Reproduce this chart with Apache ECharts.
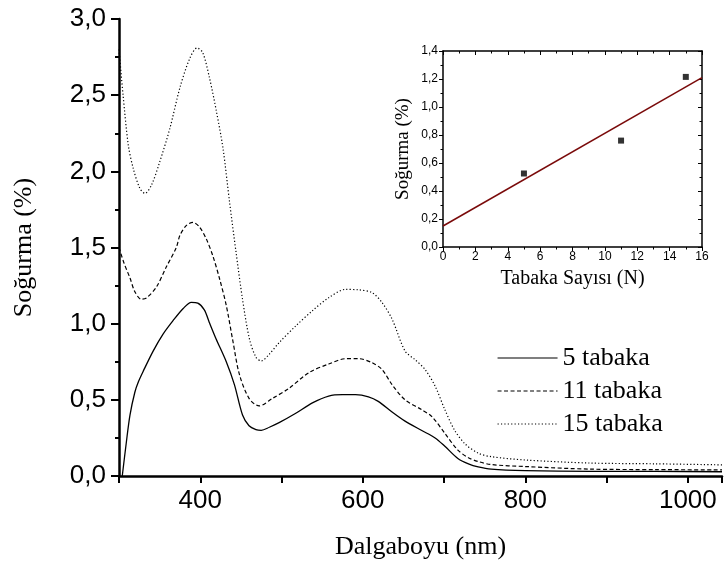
<!DOCTYPE html>
<html>
<head>
<meta charset="utf-8">
<script src="https://cdn.jsdelivr.net/npm/echarts@6/dist/echarts.min.js"></script>
<style>html,body{margin:0;padding:0;background:#fff}#c{width:725px;height:565px}</style>
</head>
<body>
<div id="c"></div>
<script>
// ---- main spectra ----
const seriesNames = ['5 tabaka', '11 tabaka', '15 tabaka'];
const wl5 = [304, 309, 313.5, 319.5, 324, 330, 342, 354, 366.5, 379, 389, 397, 405, 411, 419.5, 432, 442, 452, 460, 468.5, 475, 485, 497, 517, 538, 558, 575, 591, 607, 619, 636, 652, 672, 689, 701, 717, 730, 742, 758, 800, 880, 960, 1042];
const ab5 = [0, 0.22, 0.40, 0.55, 0.62, 0.69, 0.82, 0.93, 1.02, 1.10, 1.14, 1.135, 1.09, 1.01, 0.90, 0.75, 0.60, 0.40, 0.33, 0.305, 0.30, 0.32, 0.35, 0.41, 0.48, 0.525, 0.534, 0.534, 0.52, 0.49, 0.42, 0.36, 0.30, 0.25, 0.195, 0.115, 0.08, 0.06, 0.045, 0.035, 0.03, 0.03, 0.028];
const wl11 = [300, 306, 313.5, 319.5, 327.5, 334, 346, 358, 370.5, 375, 383, 391, 399, 407.5, 415.5, 424, 432, 440, 448, 460, 472.5, 489, 509, 534, 558, 579, 595, 611, 623.5, 636, 652, 672.5, 685, 701, 717, 730, 742, 758, 800, 880, 960, 1042];
const ab11 = [1.50, 1.40, 1.30, 1.21, 1.16, 1.17, 1.24, 1.37, 1.50, 1.58, 1.645, 1.665, 1.635, 1.555, 1.445, 1.29, 1.12, 0.89, 0.67, 0.51, 0.46, 0.51, 0.575, 0.68, 0.735, 0.77, 0.77, 0.745, 0.70, 0.60, 0.50, 0.435, 0.39, 0.28, 0.17, 0.12, 0.095, 0.075, 0.062, 0.045, 0.042, 0.04];
const wl15 = [300, 305, 311.5, 317.5, 325.5, 332, 340, 350, 362.5, 375, 387, 396, 403, 411.5, 420, 428, 436, 444, 452, 460.5, 468.5, 475, 485, 497, 517.5, 538, 558, 579, 595, 611, 623.5, 636, 652, 664, 676.5, 689, 701, 713, 726, 742, 758, 800, 880, 960, 1042];
const ab15 = [2.80, 2.50, 2.17, 2.02, 1.89, 1.855, 1.91, 2.06, 2.28, 2.55, 2.74, 2.81, 2.78, 2.61, 2.39, 2.15, 1.80, 1.47, 1.16, 0.90, 0.78, 0.755, 0.80, 0.875, 0.985, 1.085, 1.17, 1.225, 1.222, 1.205, 1.14, 1.03, 0.82, 0.765, 0.70, 0.59, 0.435, 0.30, 0.21, 0.15, 0.127, 0.105, 0.085, 0.08, 0.073];

// ---- inset ----
const layers = [5, 11, 15];
const layerAbs = [0.525, 0.76, 1.215];
const fitX = [0, 16];
const fitY = [0.15, 1.21];

function pairs(xs, ys) { return xs.map((x, i) => [x, ys[i]]); }
const comma1 = v => v.toFixed(1).replace('.', ',');

const serif = 'Liberation Serif';
const sans = 'Liberation Sans';

const chart = echarts.init(document.getElementById('c'), null, { renderer: 'canvas' });
const option = {
  animation: false,
  backgroundColor: '#fff',
  grid: [
    { left: 119, top: 19, right: 0, bottom: 89 },
    { left: 443, top: 51, width: 259, height: 196 }
  ],
  legend: {
    data: seriesNames,
    orient: 'vertical',
    left: 492,
    top: 340,
    itemWidth: 60,
    itemHeight: 14,
    itemGap: 7,
    itemStyle: { opacity: 0, borderWidth: 0 },
    lineStyle: { width: 1.1 },
    textStyle: { fontFamily: serif, fontSize: 26, color: '#000' }
  },
  xAxis: [
    {
      gridIndex: 0, type: 'value', min: 300, max: 1042, interval: 100,
      name: 'Dalgaboyu (nm)', nameLocation: 'middle', nameGap: 58,
      nameTextStyle: { fontFamily: serif, fontSize: 26, color: '#000' },
      axisLine: { show: true, onZero: false, lineStyle: { color: '#000', width: 2.5 } },
      axisTick: { show: true, length: 7, lineStyle: { color: '#000', width: 2 } },
      axisLabel: { formatter: v => (v % 200 === 0 ? String(v) : ''), fontFamily: sans, fontSize: 26, color: '#000', margin: 12 },
      splitLine: { show: false }
    },
    {
      gridIndex: 1, type: 'value', min: 0, max: 16, interval: 2,
      name: 'Tabaka Sayısı (N)', nameLocation: 'middle', nameGap: 22,
      nameTextStyle: { fontFamily: serif, fontSize: 20, color: '#000' },
      axisLine: { show: true, onZero: false, lineStyle: { color: '#000', width: 1.5 } },
      axisTick: { show: true, length: 4, lineStyle: { color: '#000', width: 1 } },
      minorTick: { show: true, splitNumber: 2, length: 2.5, lineStyle: { color: '#000', width: 1 } },
      axisLabel: { fontFamily: sans, fontSize: 12, color: '#000', margin: 4 },
      splitLine: { show: false }
    },
    {
      gridIndex: 1, type: 'value', min: 0, max: 16, interval: 2, position: 'top',
      axisLine: { show: true, onZero: false, lineStyle: { color: '#000', width: 1.5 } },
      axisTick: { show: true, inside: true, length: 4, lineStyle: { color: '#000', width: 1 } },
      minorTick: { show: true, splitNumber: 2, length: 2.5, lineStyle: { color: '#000', width: 1 } },
      axisLabel: { show: false },
      splitLine: { show: false }
    }
  ],
  yAxis: [
    {
      gridIndex: 0, type: 'value', min: 0, max: 3, interval: 0.5,
      name: 'Soğurma (%)', nameLocation: 'middle', nameGap: 82, nameRotate: 90,
      nameTextStyle: { fontFamily: serif, fontSize: 26, color: '#000' },
      axisLine: { show: true, onZero: false, lineStyle: { color: '#000', width: 2.5 } },
      axisTick: { show: true, length: 8, lineStyle: { color: '#000', width: 2 } },
      minorTick: { show: true, splitNumber: 2, length: 4, lineStyle: { color: '#000', width: 2 } },
      axisLabel: { formatter: comma1, fontFamily: sans, fontSize: 26, color: '#000', margin: 13 },
      splitLine: { show: false }
    },
    {
      gridIndex: 1, type: 'value', min: 0, max: 1.4, interval: 0.2,
      name: 'Soğurma (%)', nameLocation: 'middle', nameGap: 30, nameRotate: 90,
      nameTextStyle: { fontFamily: serif, fontSize: 19, color: '#000' },
      axisLine: { show: true, onZero: false, lineStyle: { color: '#000', width: 1.5 } },
      axisTick: { show: true, length: 4, lineStyle: { color: '#000', width: 1 } },
      minorTick: { show: true, splitNumber: 2, length: 2.5, lineStyle: { color: '#000', width: 1 } },
      axisLabel: { formatter: comma1, fontFamily: sans, fontSize: 12, color: '#000', margin: 5 },
      splitLine: { show: false }
    },
    {
      gridIndex: 1, type: 'value', min: 0, max: 1.4, interval: 0.2, position: 'right',
      axisLine: { show: true, onZero: false, lineStyle: { color: '#000', width: 1.5 } },
      axisTick: { show: true, inside: true, length: 4, lineStyle: { color: '#000', width: 1 } },
      minorTick: { show: true, splitNumber: 2, length: 2.5, lineStyle: { color: '#000', width: 1 } },
      axisLabel: { show: false },
      splitLine: { show: false }
    }
  ],
  series: [
    {
      name: seriesNames[0], type: 'line', xAxisIndex: 0, yAxisIndex: 0,
      data: pairs(wl5, ab5), smooth: 0.3, symbol: 'none',
      lineStyle: { color: '#000', width: 1.3, type: 'solid' }, itemStyle: { color: '#000' }
    },
    {
      name: seriesNames[1], type: 'line', xAxisIndex: 0, yAxisIndex: 0,
      data: pairs(wl11, ab11), smooth: 0.3, symbol: 'none',
      lineStyle: { color: '#000', width: 1.2, type: [4, 2.5] }, itemStyle: { color: '#000' }
    },
    {
      name: seriesNames[2], type: 'line', xAxisIndex: 0, yAxisIndex: 0,
      data: pairs(wl15, ab15), smooth: 0.3, symbol: 'none',
      lineStyle: { color: '#000', width: 1.2, type: [1.2, 2.2] }, itemStyle: { color: '#000' }
    },
    {
      name: 'fit', type: 'line', xAxisIndex: 1, yAxisIndex: 1,
      data: pairs(fitX, fitY), symbol: 'none',
      lineStyle: { color: '#7a0a0a', width: 1.5 }
    },
    {
      name: 'points', type: 'scatter', xAxisIndex: 1, yAxisIndex: 1,
      data: pairs(layers, layerAbs), symbol: 'rect', symbolSize: 6,
      itemStyle: { color: '#000' }
    }
  ]
};
chart.setOption(option);
</script>
</body>
</html>
